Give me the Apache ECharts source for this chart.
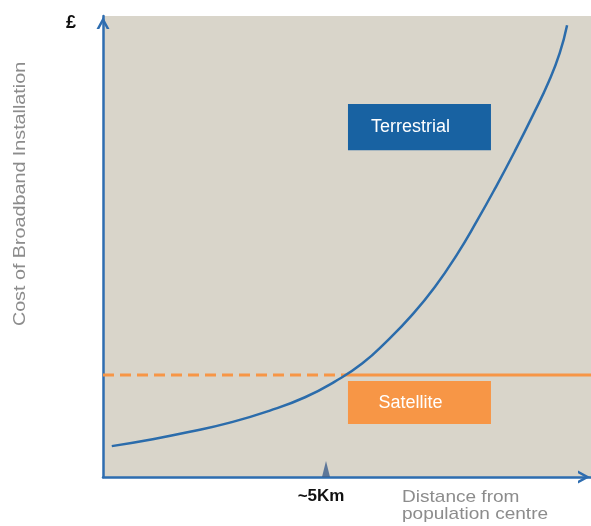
<!DOCTYPE html>
<html><head><meta charset="utf-8">
<script src="https://cdn.jsdelivr.net/npm/echarts@6/dist/echarts.min.js"></script>
<style>html,body{margin:0;padding:0;background:#fff}#c{width:591px;height:526px}</style>
</head><body><div id="c"></div>
<script>
// Terrestrial cost curve (distance units 0-100, cost units 0-100)
var terrestrialX = [1.8, 9.6, 17.8, 26.0, 34.2, 41.4, 47.5, 53.1, 58.4, 63.3, 68.0, 72.5, 76.6, 80.5, 84.4, 88.1, 91.4, 93.6, 95.1];
var terrestrialY = [6.7, 8.1, 9.8, 11.8, 14.4, 17.3, 20.7, 24.6, 29.7, 35.1, 41.2, 48.2, 55.5, 62.9, 70.7, 78.5, 85.9, 92.0, 98.0];
// Satellite flat cost
var satelliteCost = 22.1;
var crossoverX = 49.2;
var tickValues = [45.7];
var tickLabels = ['~5Km'];
var terrestrialBox = {x: [50.2, 79.5], y: [70.9, 80.9], label: 'Terrestrial'};
var satelliteBox = {x: [50.2, 79.5], y: [11.5, 20.8], label: 'Satellite'};

var curve = terrestrialX.map(function (x, i) { return [x, terrestrialY[i]]; });
var chart = echarts.init(document.getElementById('c'));
var font = 'Liberation Sans, Arial, sans-serif';
var chevron = 'path://M0,12 L6.5,0 L13,12 L10.2,12 L6.5,5.2 L2.8,12 Z';
var axisLine = {show: true, lineStyle: {color: '#2e6db0', width: 2.5}, symbol: ['none', chevron], symbolSize: [13, 12], symbolOffset: [0, -7]};
chart.setOption({
  animation: false,
  grid: {left: 103, right: 0, top: 16, bottom: 49, show: true, backgroundColor: '#d9d5ca', borderWidth: 0},
  xAxis: {
    type: 'value', min: 0, max: 100,
    splitLine: {show: false},
    axisLine: axisLine,
    axisTick: {show: false},
    axisLabel: {
      show: true, customValues: tickValues, margin: 11, padding: [0, 10, 0, 0],
      formatter: function (v) { var i = tickValues.indexOf(v); return i >= 0 ? tickLabels[i] : ''; },
      color: '#111', fontWeight: 'bold', fontSize: 17, fontFamily: font
    }
  },
  yAxis: {
    type: 'value', min: 0, max: 100,
    splitLine: {show: false},
    axisLine: axisLine,
    axisTick: {show: false},
    axisLabel: {show: false}
  },
  graphic: [
    {type: 'text', x: 66, y: 14, style: {text: '£', font: 'bold 18px ' + font, fill: '#111'}},
    {type: 'text', x: 20, y: 194, rotation: Math.PI / 2, scaleX: 1.16, style: {text: 'Cost of Broadband Installation', font: '17px ' + font, fill: '#8c8c8c', align: 'center', verticalAlign: 'middle'}},
    {type: 'text', x: 402, y: 489, scaleX: 1.12, style: {text: 'Distance from\npopulation centre', font: '17px ' + font, fill: '#8c8c8c', lineHeight: 17}}
  ],
  series: [
    {
      type: 'line', data: [[0, satelliteCost], [crossoverX, satelliteCost]], symbol: 'none',
      lineStyle: {color: '#f79646', width: 3, type: [11, 6]}, z: 2
    },
    {
      type: 'line', data: [[crossoverX, satelliteCost], [100, satelliteCost]], symbol: 'none',
      lineStyle: {color: '#f79646', width: 3}, z: 2,
      markArea: {
        silent: true,
        data: [
          [{coord: [terrestrialBox.x[0], terrestrialBox.y[1]], itemStyle: {color: '#1862a2'},
            label: {show: true, position: 'inside', offset: [-9, 0], color: '#fff', fontSize: 18, fontFamily: font, formatter: terrestrialBox.label}},
           {coord: [terrestrialBox.x[1], terrestrialBox.y[0]]}],
          [{coord: [satelliteBox.x[0], satelliteBox.y[1]], itemStyle: {color: '#f79646'},
            label: {show: true, position: 'inside', offset: [-9, 0], color: '#fff', fontSize: 18, fontFamily: font, formatter: satelliteBox.label}},
           {coord: [satelliteBox.x[1], satelliteBox.y[0]]}]
        ]
      }
    },
    {
      type: 'line', data: curve, smooth: true, symbol: 'none',
      lineStyle: {color: '#2b6cab', width: 2.5}, z: 3
    },
    {
      type: 'scatter', data: tickValues.map(function (v) { return [v, 0]; }),
      symbol: 'triangle', symbolSize: [8, 16], symbolOffset: [0, -8],
      itemStyle: {color: '#3d5f8c'}, z: 4
    }
  ]
});
</script></body></html>
